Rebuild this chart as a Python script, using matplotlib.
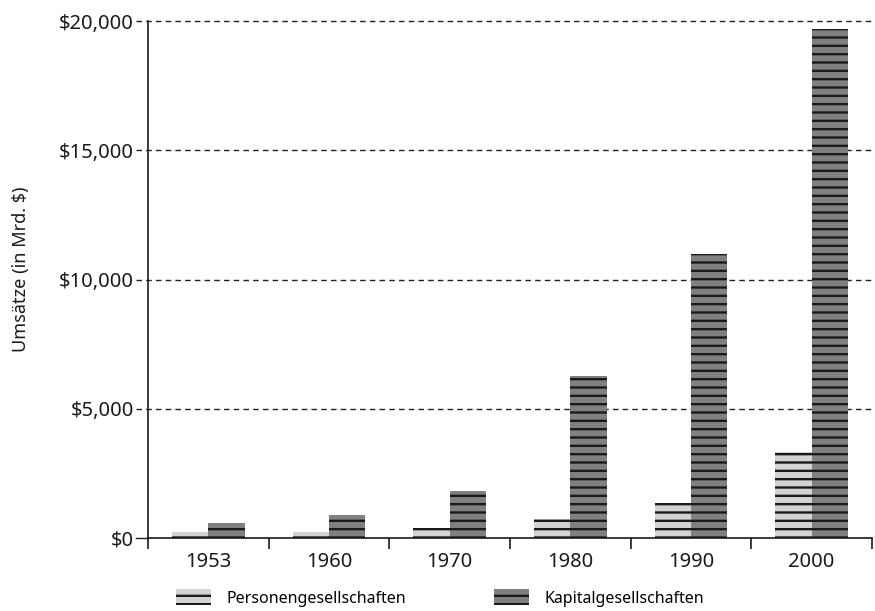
import matplotlib
matplotlib.use("Agg")
import matplotlib.pyplot as plt
import matplotlib.transforms as mtransforms
import numpy as np

years = ["1953", "1960", "1970", "1980", "1990", "2000"]
personen = [250, 250, 390, 730, 1350, 3320]
kapital = [580, 890, 1810, 6270, 11000, 19700]
yticks = [0, 5000, 10000, 15000, 20000]
ytick_labels = ["$0", "$5,000", "$10,000", "$15,000", "$20,000"]
series_names = ["Personengesellschaften", "Kapitalgesellschaften"]

plt.rcParams["font.family"] = ["Noto Sans", "DejaVu Sans"]
plt.rcParams["hatch.linewidth"] = 1.7

fig = plt.figure(figsize=(8.75, 6.11), dpi=100)
ax = fig.add_axes([148 / 875, 1 - 538 / 611, (872 - 148) / 875, (538 - 21) / 611])

x = np.arange(len(years))
w = 0.3
b1 = ax.bar(x - w / 2, personen, w, color="#d3d3d3", edgecolor="#1a1a1a",
            linewidth=0, hatch="--", zorder=2, label=series_names[0])
b2 = ax.bar(x + w / 2, kapital, w, color="#808080", edgecolor="#1a1a1a",
            linewidth=0, hatch="--", zorder=2, label=series_names[1])

ax.set_xlim(-0.5, len(years) - 0.5)
ax.set_ylim(0, 20000)

# dashed gridlines that also poke out to the left of the axis as ticks
trans = mtransforms.blended_transform_factory(ax.transAxes, ax.transData)
for v in yticks[1:]:
    ax.plot([-0.016, 1.0], [v, v], transform=trans, color="#222222", lw=1.0,
            dashes=(4, 3), clip_on=False, zorder=1)
ax.plot([-0.016, 0], [0, 0], transform=trans, color="#222222", lw=1.0,
        clip_on=False, zorder=1)

ax.set_yticks(yticks)
ax.set_yticklabels(ytick_labels, fontsize=14.5, color="#1a1a1a")
ax.tick_params(axis="y", length=0, pad=10)

ax.set_xticks(x)
ax.set_xticklabels(years, fontsize=14.5, color="#1a1a1a")
ax.set_xticks(np.arange(len(years) + 1) - 0.5, minor=True)
ax.tick_params(axis="x", which="major", length=0, pad=10)
ax.tick_params(axis="x", which="minor", length=8, width=1.2, color="#1a1a1a")

for s in ["top", "right"]:
    ax.spines[s].set_visible(False)
for s in ["left", "bottom"]:
    ax.spines[s].set_color("#1a1a1a")
    ax.spines[s].set_linewidth(1.2)

ax.set_ylabel("Umsätze (in Mrd. $)", fontsize=13, color="#1a1a1a")
ax.yaxis.set_label_coords(-0.163, 0.52)

leg = fig.legend(handles=[b1, b2], loc="upper left", ncol=2, frameon=False,
                 bbox_to_anchor=(176 / 875, 1 - 589 / 611), fontsize=11.5,
                 borderpad=0, borderaxespad=0,
                 handlelength=2.2, handleheight=1.2, handletextpad=0.95,
                 columnspacing=5.5)

fig.savefig("out.png", dpi=100)
